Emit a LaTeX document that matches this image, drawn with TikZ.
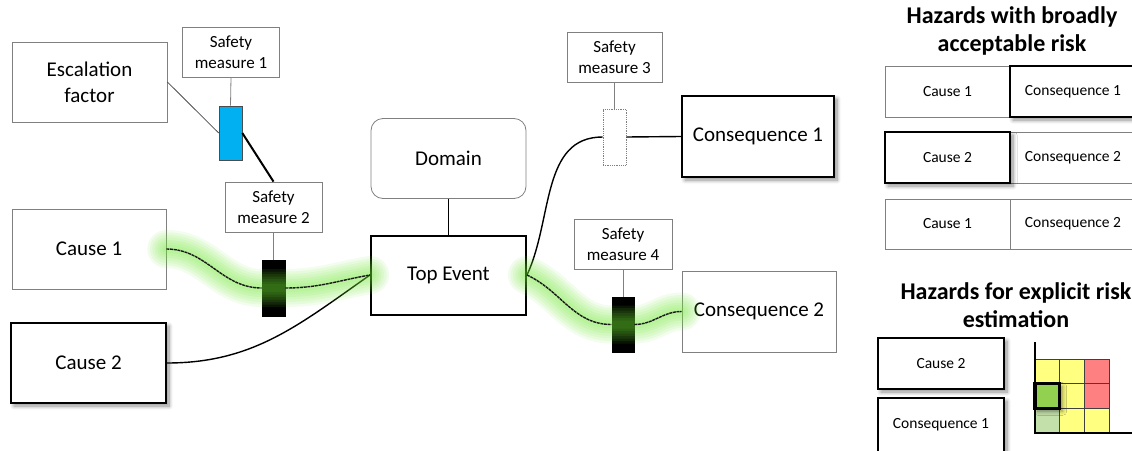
\documentclass[tikz,border=0pt]{standalone}
\usepackage{fontspec}
\setmainfont{Carlito}
\usetikzlibrary{shadows.blur}

\definecolor{thinline}{RGB}{128,128,128}
\definecolor{barblue}{RGB}{0,176,240}
\definecolor{glowgreen}{RGB}{110,230,50}
\definecolor{mxyellow}{RGB}{255,255,128}
\definecolor{mxred}{RGB}{255,128,128}
\definecolor{mxgreen}{RGB}{146,208,80}
\definecolor{mxpale}{RGB}{196,224,170}

\tikzset{
  x=1pt, y=1pt,
  lbl/.style={font=\fontsize{21}{26}\selectfont, align=center},
  thinbox/.style={draw=thinline, line width=0.8pt, fill=white, inner sep=0pt, lbl},
  thickbox/.style={draw=black, line width=2pt, fill=white, inner sep=0pt, lbl},
  shadowed/.style={blur shadow={shadow xshift=3pt, shadow yshift=-3pt,
      shadow blur radius=4pt, shadow blur steps=8, shadow opacity=45}},
  smbox/.style={draw=thinline, line width=0.8pt, fill=white, inner sep=0pt,
      minimum width=97, minimum height=50, font=\fontsize{17}{21}\selectfont, align=center},
  barrier/.style={minimum width=23, minimum height=56, inner sep=0pt},
  blackbar/.style={barrier, draw=black, line width=0.6pt, fill=black},
  stem/.style={draw=thinline, line width=0.8pt},
  wire/.style={draw=black, line width=1.4pt},
  glowwire/.style={draw=black!90, line width=1.4pt, dash pattern=on 3pt off 0.7pt},
  small/.style={font=\fontsize{15.5}{19}\selectfont},
  title/.style={font=\fontsize{24}{28}\selectfont\bfseries, align=center},
  cell/.style={draw=black!75, line width=0.6pt},
}

% soft green halo drawn as stacked translucent strokes
\newcommand\glowpath[1]{\foreach \gw in {38,33,28,23,18,13,8}{\draw[glowgreen, opacity=0.09, line width=\gw, line cap=round] #1;}}
% one coloured square of the risk matrix
\newcommand\mxcell[3]{\filldraw[cell, fill=#3] ({1035+#1*24.67},{-359-#2*24.67}) rectangle ++(24.67,-24.67);}

\begin{document}
\begin{tikzpicture}
\useasboundingbox (0,0) rectangle (1132,-450);

% ---- bow-tie: boxes
\node[thinbox, minimum width=155, minimum height=80] (esc) at (89.5,-82) {Escalation\\factor};
\node[smbox] (sm1) at (231,-52) {Safety\\measure 1};
\node[thinbox, minimum width=154, minimum height=80] (c1) at (89,-249) {Cause 1};
\node[thickbox, shadowed, minimum width=155, minimum height=80] (c2) at (88.5,-363) {Cause 2};
\node[smbox] (sm2) at (273.5,-207) {Safety\\measure 2};
\node[thinbox, rounded corners=12pt, minimum width=155, minimum height=80] (dom) at (448.5,-158.5) {Domain};
\node[thickbox, minimum width=155, minimum height=79] (top) at (448.5,-275) {Top Event};
\node[smbox, minimum width=95] (sm3) at (614.5,-57) {Safety\\measure 3};
\node[thickbox, shadowed, minimum width=152, minimum height=81] (con1) at (758,-136.5) {Consequence 1};
\node[smbox, minimum width=98] (sm4) at (623,-244) {Safety\\measure 4};
\node[thinbox, minimum width=154, minimum height=81] (con2) at (759,-311.5) {Consequence 2};

% ---- barriers
\node[barrier, draw=black!70, line width=0.6pt, fill=barblue, minimum height=54] (b1) at (230.5,-133) {};
\node[blackbar] (b2) at (273.5,-288) {};
\node[barrier, draw=thinline, line width=0.8pt, densely dotted, fill=white] (b3) at (614.5,-137) {};
\node[blackbar, minimum width=22, minimum height=55] (b4) at (623,-324.5) {};

% ---- plain connectors
\draw[stem] (sm1.south) -- (b1.north);
\draw[draw=black!70, line width=0.8pt] (esc.east) -- (b1.west);
\draw[wire, line width=2pt] (b1.east) -- (sm2.north);
\draw[stem] (sm2.south) -- (b2.north);
\draw[stem] (sm3.south) -- (b3.north);
\draw[stem] (sm4.south) -- (b4.north);
\draw[wire] (dom.south) -- (top.north);
\draw[wire] (c2.east) to[out=0,in=215] (top.west);
\draw[wire] (top.east) to[out=65,in=180] (b3.west);
\draw[wire] (b3.east) -- (con1.west);

% ---- highlighted scenario paths (halo glows through the barriers)
\glowpath{(c1.east) to[out=0,in=180] (b2.west) -- (b2.east) to[out=0,in=190] (top.west)}
\glowpath{(top.east) to[out=-25,in=180] (b4.west) -- (b4.east) to[out=0,in=180] (con2.west)}
\draw[glowwire] (c1.east) to[out=0,in=180] (b2.west);
\draw[glowwire] (b2.east) to[out=0,in=190] (top.west);
\draw[glowwire] (top.east) to[out=-25,in=180] (b4.west);
\draw[glowwire] (b4.east) to[out=0,in=180] (con2.west);

% ---- hazards with broadly acceptable risk
\node[title] (t1) at (1012,-31) {Hazards with broadly\\acceptable risk};
\node[thinbox, small, minimum width=125, minimum height=51] (r1c) at (947.5,-91.5) {Cause 1};
\node[thickbox, shadowed, small, minimum width=126, minimum height=51] (r1q) at (1073,-91.5) {Consequence 1};
\node[thinbox, small, minimum width=126, minimum height=51] (r2q) at (1073,-157.5) {Consequence 2};
\node[thickbox, shadowed, small, minimum width=125, minimum height=51] (r2c) at (947.5,-157.5) {Cause 2};
\node[thinbox, small, minimum width=125, minimum height=50] (r3c) at (947.5,-224) {Cause 1};
\node[thinbox, small, minimum width=126, minimum height=50] (r3q) at (1073,-224) {Consequence 2};

% ---- hazards for explicit risk estimation
\node[title] (t2) at (1016,-305) {Hazards for explicit risk\\estimation};
\node[thickbox, shadowed, small, minimum width=126, minimum height=51] (bc) at (941,-363.5) {Cause 2};
\node[thickbox, shadowed, small, minimum width=126, minimum height=54] (bq) at (941,-425) {Consequence 1};

% risk matrix
\mxcell{0}{0}{mxyellow}\mxcell{1}{0}{mxyellow}\mxcell{2}{0}{mxred}
\mxcell{0}{1}{mxgreen}\mxcell{1}{1}{mxyellow}\mxcell{2}{1}{mxred}
\mxcell{0}{2}{mxpale}\mxcell{1}{2}{mxyellow}\mxcell{2}{2}{mxyellow}
\draw[black, line width=2pt] (1035,-342) -- (1035,-433) -- (1140,-433);
\node[draw=black, line width=3.5pt, fill=mxgreen, minimum size=24.67, inner sep=0pt, shadowed] (hl) at (1047.3,-396) {};
\end{tikzpicture}
\end{document}
